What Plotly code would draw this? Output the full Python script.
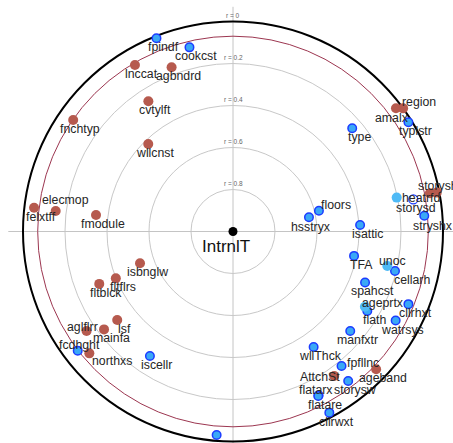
import numpy as np
import plotly.graph_objects as go

# Correlation of each variable with the target, laid out on a polar "correlation map":
# angle = direction of the variable, radius = 1 - |r| (so strong correlations sit near the centre).
TARGET = "IntrnlT"

variables = [
    "fpindf", "cookcst", "lnccat", "agbndrd", "cvtylft", "fnchtyp", "wllcnst",
    "elecmop", "felxtff", "fmodule", "isbnglw", "fltflrs", "fltblck", "lsf",
    "mainfa", "aglflrr", "fcdhght", "northxs", "iscellr", "",
    "isattic", "TFA", "unoc", "cellarh", "spahcst", "ageprtx", "flath",
    "cllrhxt", "watrsys", "manfxtr", "wllThck", "fpfllnc", "ageband", "AttchSt",
    "storysw", "flatarx", "flatare", "cllrwxt", "hsstryx", "floors", "stryshx",
    "storysd", "heatrfd", "storysh", "", "type", "typlstr", "region", "amalx",
]
angle_deg = [
    111.6, 103.3, 120.5, 110.5, 123.0, 145.1, 134.1,
    173.4, 173.2, 173.1, 198.9, 201.8, 201.4, 217.4,
    217.2, 214.2, 217.5, 220.3, 236.3, 265.4,
    2.9, 348.6, 347.4, 346.3, 338.9, 330.3, 329.4,
    337.5, 331.3, 319.7, 304.9, 308.9, 316.1, 305.0,
    307.6, 297.6, 297.4, 298.0, 10.6, 13.6, 4.7,
    10.1, 11.7, 10.8, 11.0, 40.9, 31.9, 35.9, 37.1,
]
corr = [
    0.01, 0.099, 0.080, 0.165, 0.260, 0.072, 0.420,
    0.150, 0.046, 0.343, 0.532, 0.399, 0.316, 0.306,
    0.229, 0.157, 0.068, 0.103, 0.287, 0.028,
    0.394, 0.412, 0.247, 0.206, 0.326, 0.277, 0.257,
    0.096, 0.117, 0.268, 0.329, 0.177, 0.054, 0.160,
    0.101, 0.120, 0.118, 0.023, 0.632, 0.579, 0.086,
    0.128, 0.204, 0.012, 0.045, 0.249, 0.016, 0.0, 0.027,
]
# neg = negative correlation, pos = positive, part = partial (light), open = unfilled
group = [
    "pos", "pos", "neg", "neg", "neg", "neg", "neg",
    "neg", "neg", "neg", "neg", "neg", "neg", "neg",
    "neg", "neg", "pos", "neg", "pos", "pos",
    "pos", "pos", "part", "pos", "pos", "part", "pos",
    "pos", "pos", "pos", "pos", "pos", "neg", "neg",
    "pos", "pos", "pos", "pos", "pos", "pos", "pos",
    "open", "part", "neg", "neg", "pos", "pos", "neg", "neg",
]

ring_levels = [0.2, 0.4, 0.6, 0.8]
ring_label_levels = [0.0, 0.2, 0.4, 0.6, 0.8]
critical_r = 0.07

# label placement (pixel offsets of the label centre from its point, y down)
LABEL_OFFSET = (7, 9)
LABEL_NUDGE = {
    "region": (16, -6), "amalx": (-4, 10), "floors": (17, -6),
    "storysh": (1, -7), "heatrfd": (24, 0), "unoc": (5, -5),
    "ageprtx": (18, -4), "fpfllnc": (21, -3), "AttchSt": (-14, 1),
    "flatarx": (-3, -5), "aglflrr": (-4, -4), "fcdhght": (2, -6),
    "northxs": (23, 8), "elecmop": (10, -11), "cellarh": (17, 9),
    "hsstryx": (2, 10), "storysd": (3, 9), "stryshx": (9, 10),
}

FONT = "Liberation Sans, Arial, Helvetica, sans-serif"

theta = np.deg2rad(np.array(angle_deg))
rad = 1.0 - np.abs(np.array(corr))
xs = rad * np.cos(theta)
ys = rad * np.sin(theta)
grp = np.array(group)

fig = go.Figure()

shapes = []
# axis cross lines
ext = 1.07
for (x0, y0, x1, y1) in [(-ext, 0, ext, 0), (0, -ext, 0, ext)]:
    shapes.append(dict(type="line", xref="x", yref="y", x0=x0, y0=y0, x1=x1, y1=y1,
                       line=dict(color="#c4c4c4", width=1), layer="below"))
# correlation rings
for lv in ring_levels:
    rr = 1 - lv
    shapes.append(dict(type="circle", xref="x", yref="y", x0=-rr, y0=-rr, x1=rr, y1=rr,
                       line=dict(color="#c8c8c8", width=1), layer="below"))
# critical value ring
rc = 1 - critical_r
shapes.append(dict(type="circle", xref="x", yref="y", x0=-rc, y0=-rc, x1=rc, y1=rc,
                   line=dict(color="#9c3650", width=1), layer="below"))
# r = 0 boundary
shapes.append(dict(type="circle", xref="x", yref="y", x0=-1, y0=-1, x1=1, y1=1,
                   line=dict(color="#000000", width=2), layer="below"))

styles = {
    "neg": dict(size=10, color="#b65a4e", line=dict(width=0)),
    "pos": dict(size=8.5, color="#3aa8f6", line=dict(color="#1c3cff", width=1.5)),
    "part": dict(size=10, color="#4fbaf6", line=dict(width=0)),
    "open": dict(size=9, color="rgba(255,255,255,0)", line=dict(color="#1c3cff", width=1.3)),
}
for key in ["neg", "pos", "part", "open"]:
    m = grp == key
    fig.add_trace(go.Scatter(x=xs[m], y=ys[m], mode="markers", marker=styles[key],
                             hoverinfo="skip", showlegend=False))

# target at the centre
fig.add_trace(go.Scatter(x=[0], y=[0], mode="markers",
                         marker=dict(size=9, color="#000000"),
                         hoverinfo="skip", showlegend=False))

annotations = []
for name, x, y in zip(variables, xs, ys):
    if not name:
        continue
    dx, dy = LABEL_NUDGE.get(name, LABEL_OFFSET)
    annotations.append(dict(x=x, y=y, xref="x", yref="y", text=name, showarrow=False,
                            xanchor="center", yanchor="middle", xshift=dx, yshift=-dy,
                            font=dict(family=FONT, size=12.3, color="#262626")))
annotations.append(dict(x=0, y=0, xref="x", yref="y", text=TARGET, showarrow=False,
                        xanchor="center", yanchor="middle", xshift=-7, yshift=-15,
                        font=dict(family=FONT, size=17, color="#111111")))
for lv in ring_label_levels:
    annotations.append(dict(x=0, y=1 - lv, xref="x", yref="y", text=f"r = {lv:g}",
                            showarrow=False, xanchor="center", yanchor="middle", yshift=6,
                            font=dict(family=FONT, size=6.5, color="#666666")))

W, H = 453, 443
cx, cy, R = 233.0, 231.5, 210.0
fig.update_layout(
    width=W, height=H,
    margin=dict(l=0, r=0, t=0, b=0),
    paper_bgcolor="white", plot_bgcolor="white",
    xaxis=dict(range=[-cx / R, (W - cx) / R], visible=False, fixedrange=True),
    yaxis=dict(range=[(cy - H) / R, cy / R], visible=False, fixedrange=True),
    shapes=shapes, annotations=annotations, showlegend=False,
)

fig.write_html("out.html", config={"displayModeBar": False})
